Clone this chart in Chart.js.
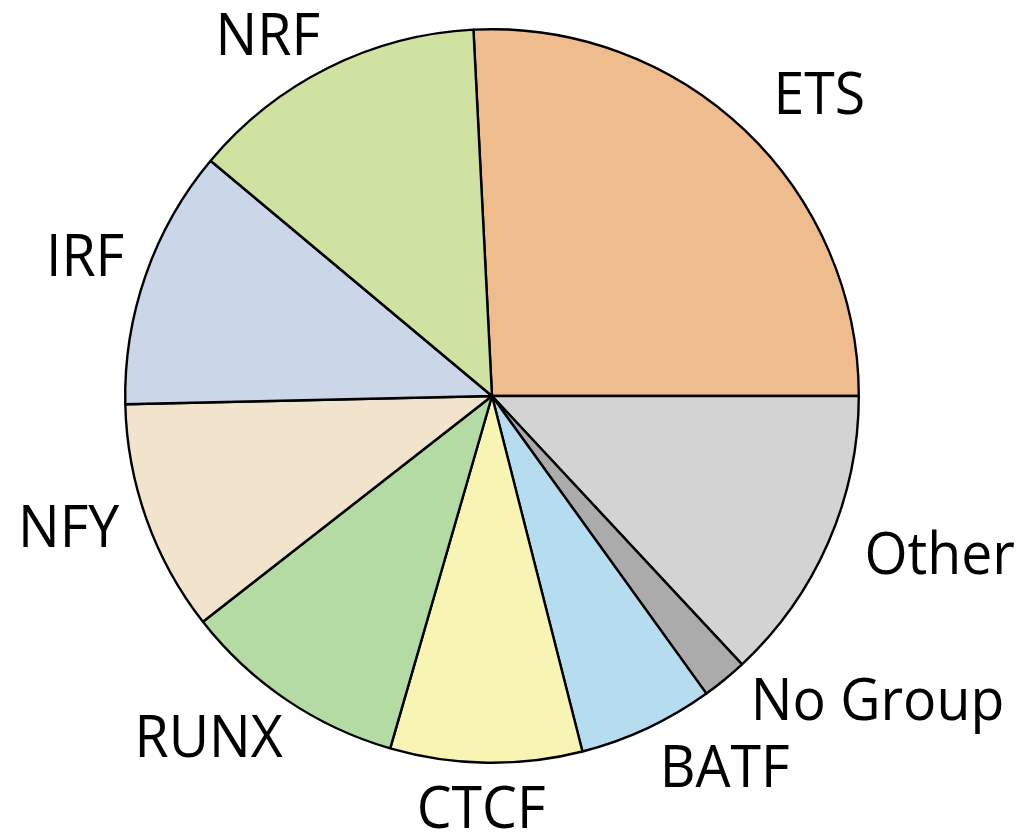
<!DOCTYPE html>
<html>
<head>
<meta charset="utf-8">
<script src="https://cdn.jsdelivr.net/npm/chart.js@4/dist/chart.umd.min.js"></script>
<style>
  html, body { margin: 0; padding: 0; background: #ffffff; }
  #wrap { width: 1025px; height: 838px; position: relative; }
</style>
</head>
<body>
<div id="wrap"><canvas id="c"></canvas></div>
<script>
// ---- data (clockwise from top) ----
const categories = ["ETS", "Other", "No Group", "BATF", "CTCF", "RUNX", "NFY", "IRF", "NRF"];
const shares = [25.8, 13.06, 2.0, 5.97, 8.44, 9.97, 10.19, 11.44, 13.11];
const sliceColors = ["#EFBC8E", "#D3D3D3", "#ABABAB", "#B5DDEF", "#F8F5B4", "#B3DBA3", "#F2E3CD", "#CBD6E8", "#D0E2A1"];

// label placement relative to each slice: angle nudge (deg) from slice middle, distance as fraction of radius
const labelAngleNudge = [3.7, -4.1, -12.4, -7.1, 0.6, 5.7, 2.5, -0.2, -5.3];
const labelDistance = [1.215, 1.294, 1.338, 1.193, 1.122, 1.208, 1.208, 1.174, 1.160];

const FONT_SIZE = 58;
const TEXT_SCALE_X = 0.955;
const FONT = FONT_SIZE + 'px "Open Sans", "Noto Sans", sans-serif';

const outsideLabels = {
  id: 'outsideLabels',
  afterDatasetsDraw(chart) {
    const ctx = chart.ctx;
    const meta = chart.getDatasetMeta(0);
    const capH = FONT_SIZE * 0.714;
    meta.data.forEach((arc, i) => {
      const p = arc.getProps(['x', 'y', 'startAngle', 'endAngle', 'outerRadius'], true);
      const a = (p.startAngle + p.endAngle) / 2 + labelAngleNudge[i] * Math.PI / 180;
      const r = p.outerRadius * labelDistance[i];
      const x = p.x + Math.cos(a) * r;
      const y = p.y + Math.sin(a) * r;
      ctx.save();
      ctx.font = FONT;
      ctx.fillStyle = '#000000';
      ctx.textAlign = 'center';
      ctx.textBaseline = 'alphabetic';
      ctx.translate(x, y + capH / 2);
      ctx.scale(TEXT_SCALE_X, 1);
      ctx.fillText(chart.data.labels[i], 0, 0);
      ctx.restore();
    });
  }
};

function build() {
  new Chart(document.getElementById('c'), {
    type: 'pie',
    data: {
      labels: categories,
      datasets: [{
        data: shares,
        backgroundColor: sliceColors,
        borderColor: '#000000',
        borderWidth: 2.4,
        hoverOffset: 0
      }]
    },
    options: {
      responsive: true,
      maintainAspectRatio: false,
      animation: false,
      rotation: -2.9,
      layout: { padding: { left: 124, right: 165, top: 28, bottom: 74 } },
      plugins: {
        legend: { display: false },
        tooltip: { enabled: false }
      },
      events: []
    },
    plugins: [outsideLabels]
  });
}

if (document.fonts && document.fonts.load) {
  document.fonts.load(FONT).then(build, build);
} else {
  build();
}
</script>
</body>
</html>
